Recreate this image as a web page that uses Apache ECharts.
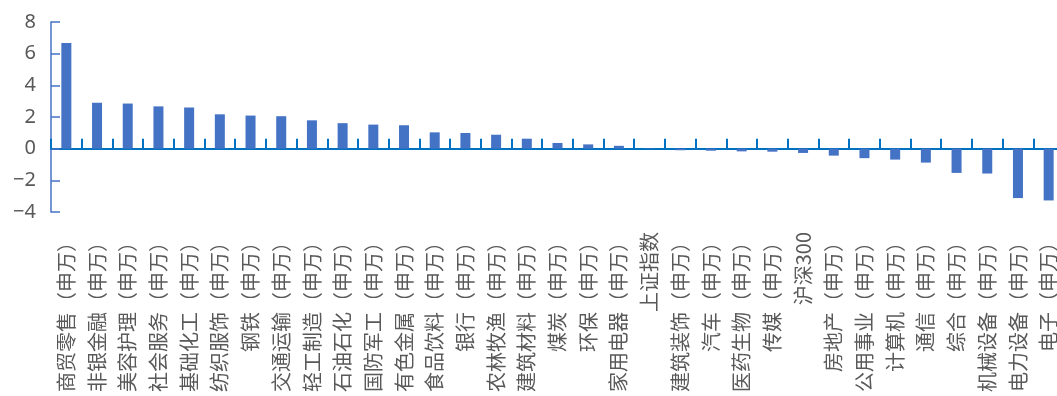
<!DOCTYPE html>
<html>
<head>
<meta charset="utf-8">
<script src="https://cdn.jsdelivr.net/npm/echarts@6/dist/echarts.min.js"></script>
<style>
html,body{margin:0;padding:0;background:#fff;}
#chart{width:1057px;height:396px;}
</style>
</head>
<body>
<div id="chart"></div>
<script>
const categories = [
  '商贸零售（申万）','非银金融（申万）','美容护理（申万）','社会服务（申万）','基础化工（申万）',
  '纺织服饰（申万）','钢铁（申万）','交通运输（申万）','轻工制造（申万）','石油石化（申万）',
  '国防军工（申万）','有色金属（申万）','食品饮料（申万）','银行（申万）','农林牧渔（申万）',
  '建筑材料（申万）','煤炭（申万）','环保（申万）','家用电器（申万）','上证指数',
  '建筑装饰（申万）','汽车（申万）','医药生物（申万）','传媒（申万）','沪深300',
  '房地产（申万）','公用事业（申万）','计算机（申万）','通信（申万）','综合（申万）',
  '机械设备（申万）','电力设备（申万）','电子（申万）'
];
const values = [
  6.68, 2.90, 2.85, 2.67, 2.60,
  2.17, 2.09, 2.05, 1.79, 1.61,
  1.52, 1.48, 1.03, 0.99, 0.88,
  0.63, 0.36, 0.27, 0.18, 0.03,
  -0.10, -0.13, -0.17, -0.19, -0.27,
  -0.44, -0.60, -0.69, -0.88, -1.53,
  -1.57, -3.12, -3.27
];
const yMin = -4, yMax = 8, yStep = 2;

const chart = echarts.init(document.getElementById('chart'), null, {renderer: 'canvas'});
chart.setOption({
  animation: false,
  backgroundColor: '#ffffff',
  grid: {left: 51, top: 22, width: 1013, height: 190, containLabel: false, outerBoundsMode: 'none'},
  xAxis: {
    type: 'category',
    data: categories,
    axisLine: {show: true, onZero: true, lineStyle: {color: '#0070C0', width: 2}},
    axisTick: {show: true, inside: true, length: 10, alignWithLabel: false, lineStyle: {color: '#0070C0', width: 2}},
    axisLabel: {
      interval: 0, rotate: 90, margin: 20, hideOverlap: false,
      color: '#595959', fontSize: 20,
      fontFamily: '"Noto Sans CJK SC", "Noto Sans", sans-serif'
    },
    splitLine: {show: false}
  },
  yAxis: {
    type: 'value',
    min: yMin, max: yMax, interval: yStep,
    axisLine: {show: true, lineStyle: {color: '#4472C4', width: 1.5}},
    axisTick: {show: true, inside: true, length: 9, lineStyle: {color: '#4472C4', width: 1.5}},
    axisLabel: {
      margin: 15, color: '#595959', fontSize: 20,
      fontFamily: '"Noto Sans", sans-serif',
      formatter: v => String(v).replace('-', '−')
    },
    splitLine: {show: false}
  },
  series: [{
    type: 'bar',
    data: values,
    barWidth: 10,
    itemStyle: {color: '#4472C4'}
  }]
});
</script>
</body>
</html>
